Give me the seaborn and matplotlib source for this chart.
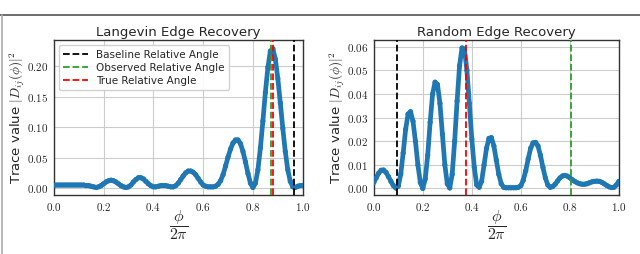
import numpy as np
import pandas as pd
import matplotlib
matplotlib.use('Agg')
import matplotlib.pyplot as plt
from matplotlib.ticker import FuncFormatter
from matplotlib.lines import Line2D
import seaborn as sns

sns.set_style('whitegrid')
plt.rcParams['font.family'] = ['DejaVu Sans']
plt.rcParams['mathtext.fontset'] = 'cm'

phi = [round(i * 0.01, 2) for i in range(101)]

langevin_trace = [
    0.004, 0.005, 0.005, 0.005, 0.005, 0.005, 0.005, 0.005, 0.005, 0.005,
    0.005, 0.005, 0.005, 0.004, 0.004, 0.003, 0.002, 0.001, 0.002, 0.004,
    0.007, 0.010, 0.012, 0.013, 0.012, 0.010, 0.007, 0.004, 0.002, 0.001,
    0.002, 0.005, 0.010, 0.014, 0.017, 0.017, 0.015, 0.011, 0.007, 0.004,
    0.002, 0.002, 0.003, 0.004, 0.004, 0.004, 0.003, 0.002, 0.002, 0.004,
    0.008, 0.014, 0.020, 0.025, 0.028, 0.028, 0.026, 0.022, 0.016, 0.010,
    0.005, 0.003, 0.002, 0.002, 0.002, 0.003, 0.006, 0.012, 0.022, 0.036,
    0.051, 0.064, 0.074, 0.079, 0.079, 0.073, 0.060, 0.043, 0.024, 0.008,
    0.001, 0.008, 0.030, 0.066, 0.110, 0.157, 0.198, 0.225, 0.229, 0.212,
    0.180, 0.140, 0.098, 0.060, 0.030, 0.011, 0.002, 0.001, 0.003, 0.004,
    0.004,
]

random_trace = [
    0.0025, 0.0045, 0.0065, 0.0077, 0.0078, 0.0068, 0.0050, 0.0030, 0.0012, 0.0002,
    0.0010, 0.0060, 0.0150, 0.0250, 0.0315, 0.0325, 0.0285, 0.0200, 0.0100, 0.0025,
    0.0000, 0.0040, 0.0140, 0.0280, 0.0400, 0.0450, 0.0440, 0.0360, 0.0230, 0.0100,
    0.0020, 0.0002, 0.0060, 0.0200, 0.0370, 0.0520, 0.0595, 0.0590, 0.0500, 0.0360,
    0.0210, 0.0090, 0.0015, 0.0005, 0.0030, 0.0100, 0.0170, 0.0212, 0.0215, 0.0180,
    0.0120, 0.0060, 0.0020, 0.0005, 0.0003, 0.0003, 0.0003, 0.0003, 0.0003, 0.0005,
    0.0012, 0.0035, 0.0075, 0.0125, 0.0170, 0.0193, 0.0195, 0.0180, 0.0140, 0.0090,
    0.0045, 0.0015, 0.0005, 0.0008, 0.0018, 0.0032, 0.0045, 0.0053, 0.0055, 0.0052,
    0.0045, 0.0037, 0.0030, 0.0024, 0.0020, 0.0018, 0.0018, 0.0020, 0.0024, 0.0028,
    0.0030, 0.0031, 0.0030, 0.0026, 0.0020, 0.0013, 0.0007, 0.0004, 0.0005, 0.0015,
    0.0030,
]

# relative angles (baseline, observed, true)
langevin_angles = [0.966, 0.873, 0.881]
random_angles = [0.095, 0.805, 0.378]
angle_labels = ['Baseline Relative Angle', 'Observed Relative Angle', 'True Relative Angle']
angle_colors = ['black', '#2ca02c', 'red']

titles = ['Langevin Edge Recovery', 'Random Edge Recovery']
yticks_left = [0.00, 0.05, 0.10, 0.15, 0.20]
yticks_right = [0.00, 0.01, 0.02, 0.03, 0.04, 0.05, 0.06]
xticks = [0.0, 0.2, 0.4, 0.6, 0.8, 1.0]

df_l = pd.DataFrame({'phi': phi, 'trace': langevin_trace})
df_r = pd.DataFrame({'phi': phi, 'trace': random_trace})

fig = plt.figure(figsize=(6.4, 2.54), dpi=100)
ax1 = fig.add_axes([0.084, 0.232, 0.389, 0.610])
ax2 = fig.add_axes([0.584, 0.232, 0.383, 0.610])

blue = '#1f77b4'


def draw_panel(ax, df, angles, title, yticks, ylim, legend):
    sns.lineplot(data=df, x='phi', y='trace', ax=ax, color=blue, linewidth=3.4,
                 solid_capstyle='round', zorder=2)
    sns.scatterplot(data=df, x='phi', y='trace', ax=ax, color=blue, s=14,
                    edgecolor='none', zorder=3)
    for a, lab, col in zip(angles, angle_labels, angle_colors):
        ax.axvline(a, color=col, linestyle='--', linewidth=1.3, label=lab, zorder=4)
    ax.set_xlim(0, 1)
    ax.set_ylim(*ylim)
    ax.set_xticks(xticks)
    ax.set_yticks(yticks)
    ax.xaxis.set_major_formatter(FuncFormatter(lambda v, p: f'${v:.1f}$'))
    ax.yaxis.set_major_formatter(FuncFormatter(lambda v, p: f'${v:.2f}$'))
    ax.tick_params(axis='both', labelsize=8, length=2, pad=2)
    ax.set_title(title, fontsize=9.5, pad=3)
    ax.set_xlabel(r'$\dfrac{\phi}{2\pi}$', fontsize=11.5, labelpad=-3)
    ax.set_ylabel(r'Trace value $|D_{ij}(\phi)|^2$', fontsize=9.5, labelpad=0)
    for sp in ax.spines.values():
        sp.set_edgecolor('#333333')
        sp.set_linewidth(1.0)
    ax.grid(True, color='#cccccc', linewidth=0.8)
    if legend:
        ax.legend(loc='upper left', fontsize=7.5, frameon=True, handlelength=2.4,
                  borderpad=0.4, labelspacing=0.3, framealpha=0.9)
    else:
        leg = ax.get_legend()
        if leg is not None:
            leg.remove()


draw_panel(ax1, df_l, langevin_angles, titles[0], yticks_left, (-0.0115, 0.243), True)
draw_panel(ax2, df_r, random_angles, titles[1], yticks_right, (-0.0028, 0.0628), False)

# page border of the cropped figure
fig.add_artist(Line2D([0, 1], [0.941, 0.941], transform=fig.transFigure,
                      color='#555555', linewidth=1.2))
fig.add_artist(Line2D([0.003, 0.003], [0, 0.941], transform=fig.transFigure,
                      color='#aaaaaa', linewidth=1.2))

fig.savefig('out.png', dpi=100)
